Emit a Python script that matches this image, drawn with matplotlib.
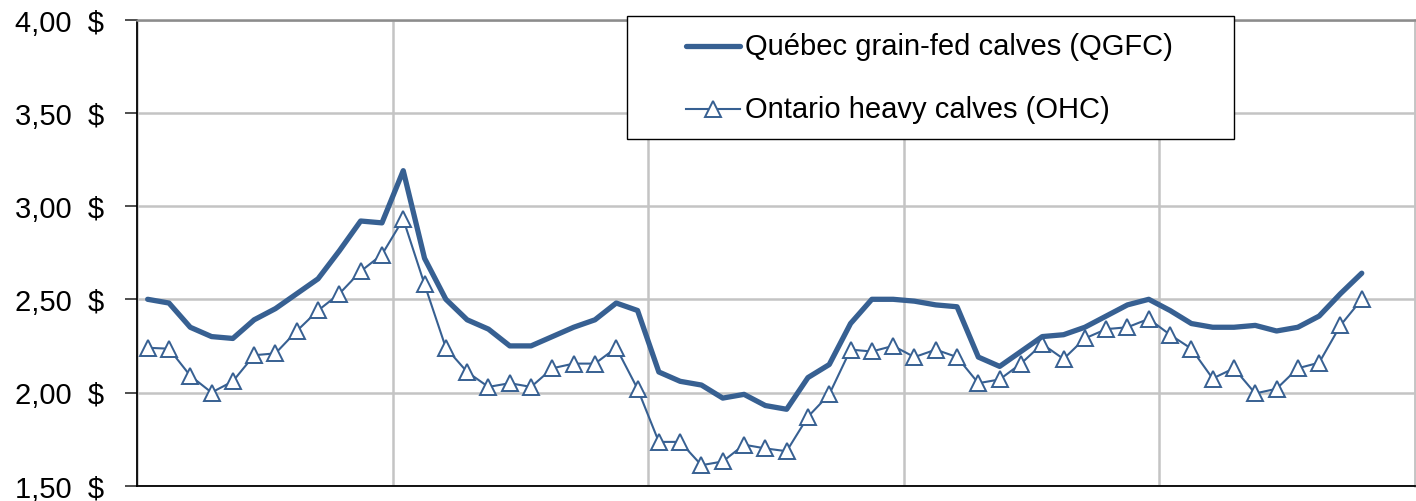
import matplotlib
matplotlib.use("Agg")
import matplotlib.pyplot as plt
from matplotlib.lines import Line2D
from matplotlib.patches import Rectangle
import numpy as np

plt.rcParams['font.family'] = ['Liberation Sans', 'DejaVu Sans']

# 60 monthly categories (5 years); last two months without data
n_categories = 60
qgfc = [2.50, 2.48, 2.35, 2.30, 2.29, 2.39, 2.45, 2.53, 2.61, 2.76, 2.92, 2.91,
        3.19, 2.72, 2.50, 2.39, 2.34, 2.25, 2.25, 2.30, 2.35, 2.39, 2.48, 2.44,
        2.11, 2.06, 2.04, 1.97, 1.99, 1.93, 1.91, 2.08, 2.15, 2.37, 2.50, 2.50,
        2.49, 2.47, 2.46, 2.19, 2.14, 2.22, 2.30, 2.31, 2.35, 2.41, 2.47, 2.50,
        2.44, 2.37, 2.35, 2.35, 2.36, 2.33, 2.35, 2.41, 2.53, 2.64]
ohc = [2.24, 2.235, 2.09, 2.00, 2.06, 2.20, 2.21, 2.33, 2.44, 2.53, 2.65, 2.74,
       2.93, 2.58, 2.24, 2.11, 2.03, 2.05, 2.03, 2.13, 2.155, 2.155, 2.24, 2.02,
       1.735, 1.735, 1.61, 1.63, 1.72, 1.70, 1.685, 1.87, 1.99, 2.23, 2.22, 2.25,
       2.19, 2.23, 2.19, 2.05, 2.07, 2.155, 2.26, 2.18, 2.29, 2.34, 2.35, 2.395,
       2.31, 2.235, 2.075, 2.13, 1.995, 2.02, 2.13, 2.16, 2.36, 2.50]
yticks = [1.5, 2.0, 2.5, 3.0, 3.5, 4.0]
ytick_labels = ["1,50  $", "2,00  $", "2,50  $", "3,00  $", "3,50  $", "4,00  $"]
labels = ["Québec grain-fed calves (QGFC)", "Ontario heavy calves (OHC)"]

color = '#376092'
W, H = 1416, 502
fig = plt.figure(figsize=(W / 100, H / 100), dpi=100)
ax = fig.add_axes([137 / W, 1 - 486.7 / H, (1415 - 137) / W, (486.7 - 20.7) / H])

q_style = dict(color=color, lw=3.8, solid_joinstyle='round', solid_capstyle='round')
o_style = dict(color=color, lw=1.5, marker='^', markersize=11,
               markerfacecolor='white', markeredgecolor=color, markeredgewidth=1.4)

ax.plot(np.arange(len(qgfc)), qgfc, zorder=4, **q_style)
ax.plot(np.arange(len(ohc)), ohc, zorder=3, **o_style)

ax.set_xlim(-0.5, n_categories - 0.5)
ax.set_ylim(1.5, 4.0)
ax.set_yticks(yticks)
ax.set_yticklabels(ytick_labels, fontsize=21)
ax.set_xticks(np.arange(-0.5, n_categories, 12))
ax.tick_params(axis='x', length=0, labelbottom=False)
ax.tick_params(axis='y', length=9, width=1.2, pad=14.5, direction='out', color='#303030')
ax.grid(True, color='#c4c4c4', lw=1.8, zorder=0)
ax.set_axisbelow(True)
ax.spines['top'].set_color('#8c8c8c')
ax.spines['top'].set_linewidth(1.8)
ax.spines['right'].set_color('#c4c4c4')
ax.spines['right'].set_linewidth(1.8)
ax.spines['left'].set_color('black')
ax.spines['bottom'].set_color('black')
ax.spines['left'].set_linewidth(1.3)
ax.spines['bottom'].set_linewidth(1.3)

# Legend box drawn in figure pixels
def fx(px):
    return px / W

def fy(py):
    return 1 - py / H

fig.add_artist(Rectangle((fx(627), fy(140)), fx(1234) - fx(627), fy(17) - fy(140),
                         transform=fig.transFigure, facecolor='white',
                         edgecolor='black', lw=1.0, zorder=10))
row_y = [47, 110]
styles = [q_style, o_style]
for lab, ry, st in zip(labels, row_y, styles):
    fig.add_artist(Line2D([fx(686), fx(740)], [fy(ry), fy(ry)],
                          transform=fig.transFigure, zorder=11,
                          **{k: v for k, v in st.items() if k != 'marker'}))
    if 'marker' in st:
        fig.add_artist(Line2D([fx(713)], [fy(ry)], transform=fig.transFigure,
                              zorder=12, linestyle='none', **st))
    fig.text(fx(745), fy(ry), lab, fontsize=21, va='center', ha='left', zorder=12)

fig.savefig('out.png', dpi=100)
